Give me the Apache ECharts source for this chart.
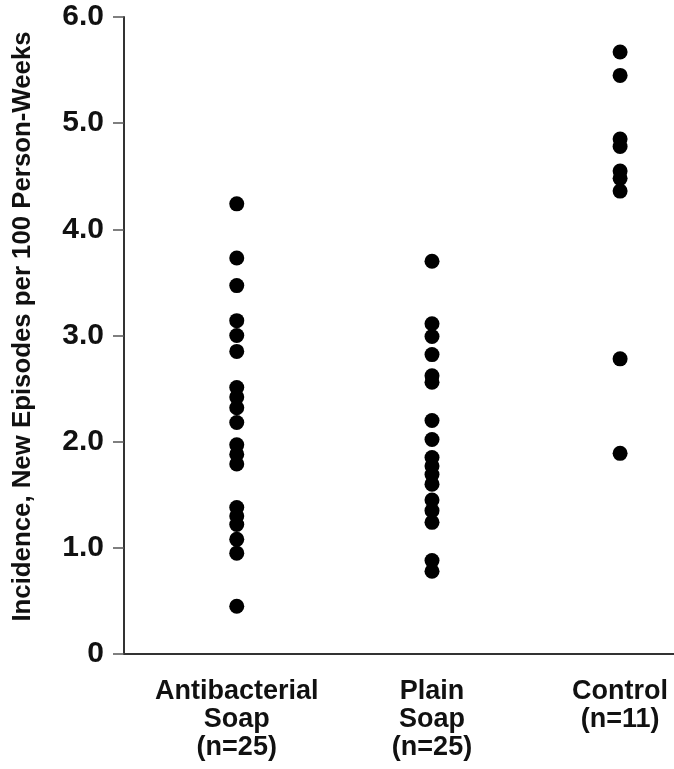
<!DOCTYPE html>
<html>
<head>
<meta charset="utf-8">
<script src="https://cdn.jsdelivr.net/npm/echarts@6/dist/echarts.min.js"></script>
<style>
html,body{margin:0;padding:0;background:#fff;}
#chart{width:674px;height:769px;}
</style>
</head>
<body>
<div id="chart"></div>
<script>
// Group labels and their positions along the x value scale
var groupLabels = ['Antibacterial\nSoap\n(n=25)', 'Plain\nSoap\n(n=25)', 'Control\n(n=11)'];
var groupX = [20.5, 56, 90.2];

// Incidence values
var antibacterial = [4.24, 3.73, 3.47, 3.14, 3.00, 2.85, 2.51, 2.42, 2.32, 2.18, 1.97, 1.88, 1.79, 1.38, 1.30, 1.22, 1.08, 0.95, 0.45];
var plainSoap = [3.70, 3.11, 2.99, 2.82, 2.62, 2.56, 2.20, 2.02, 1.85, 1.77, 1.69, 1.60, 1.45, 1.35, 1.24, 0.88, 0.78];
var control = [5.67, 5.45, 4.85, 4.78, 4.55, 4.48, 4.36, 2.78, 1.89];

var yTicks = [0, 1, 2, 3, 4, 5, 6];

function pts(xv, arr) { return arr.map(function (v) { return [xv, v]; }); }

var FONT = 'Liberation Sans';
var dotStyle = { color: '#000', opacity: 1 };
var chart = echarts.init(document.getElementById('chart'));
chart.setOption({
  animation: false,
  backgroundColor: '#ffffff',
  grid: { left: 124, right: 0, top: 17, bottom: 115 },
  xAxis: {
    type: 'value', min: 0, max: 100,
    splitLine: { show: false },
    axisLine: { show: true, lineStyle: { color: '#333', width: 2 } },
    axisTick: { show: false },
    axisLabel: {
      customValues: groupX,
      formatter: function (v) {
        var i = groupX.indexOf(v);
        return i >= 0 ? groupLabels[i] : '';
      },
      fontFamily: FONT, fontWeight: 'bold', fontSize: 27, color: '#111',
      lineHeight: 28, margin: 24, verticalAlign: 'top'
    }
  },
  yAxis: {
    type: 'value', min: 0, max: 6, interval: 1,
    name: 'Incidence, New Episodes per 100 Person-Weeks',
    nameLocation: 'middle', nameGap: 88, nameRotate: 90,
    nameTextStyle: { fontFamily: FONT, fontWeight: 'bold', fontSize: 25.8, color: '#111', padding: [0, 0, 0, 18] },
    splitLine: { show: false },
    axisLine: { show: true, lineStyle: { color: '#333', width: 2 } },
    axisTick: { show: true, length: 11, lineStyle: { color: '#555', width: 1.5 } },
    axisLabel: {
      customValues: yTicks,
      formatter: function (v) { return v === 0 ? '0' : v.toFixed(1); },
      fontFamily: FONT, fontWeight: 'bold', fontSize: 30, color: '#111', margin: 20
    }
  },
  series: [
    { type: 'scatter', data: pts(groupX[0], antibacterial), symbolSize: 15, itemStyle: dotStyle },
    { type: 'scatter', data: pts(groupX[1], plainSoap), symbolSize: 15, itemStyle: dotStyle },
    { type: 'scatter', data: pts(groupX[2], control), symbolSize: 15, itemStyle: dotStyle }
  ]
});
</script>
</body>
</html>
